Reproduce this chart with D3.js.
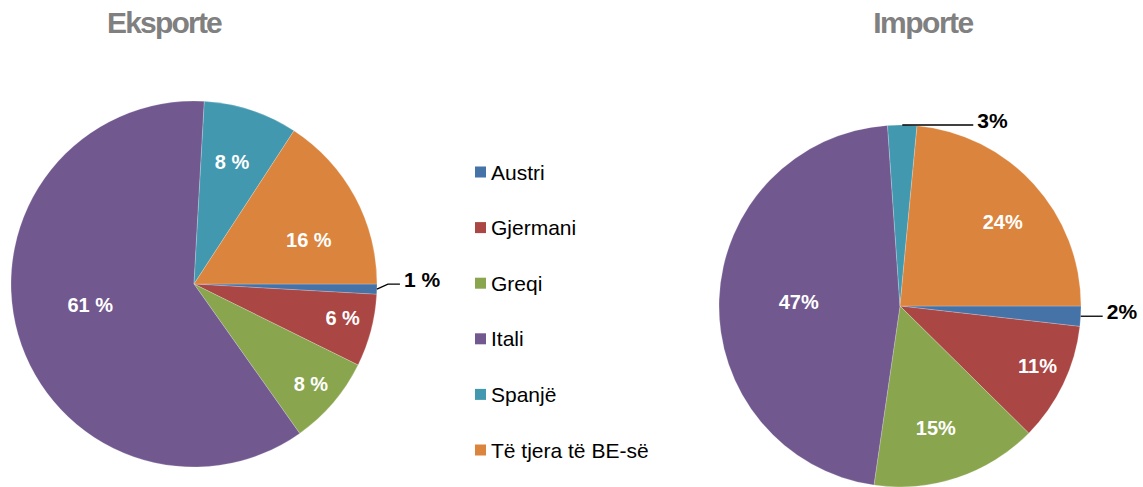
<!DOCTYPE html>
<html>
<head>
<meta charset="utf-8">
<script src="https://cdn.jsdelivr.net/npm/d3@7"></script>
<style>
  html, body { margin: 0; padding: 0; background: #fff; }
  svg { display: block; font-family: "Liberation Sans", Arial, sans-serif; }
</style>
</head>
<body>
<div id="chart"></div>
<script>
// Data
const categories = ["Austri", "Gjermani", "Greqi", "Itali", "Spanjë", "Të tjera të BE-së"];
const exportValues = [0.9, 6.4, 7.9, 60.7, 8.3, 15.8];
const importValues = [1.8, 10.6, 14.9, 46.6, 2.6, 23.5];
const titles = ["Eksporte", "Importe"];
const colors = ["#4572A7", "#AA4643", "#89A54E", "#71588F", "#4198AF", "#DB843D"];

// Layout
const width = 1143;
const height = 487;
const charts = [
  {
    title: titles[0], values: exportValues, cx: 194, cy: 284, r: 183,
    titleX: 164, letterSpacing: -1.8, suffix: " %",
    labelRadius: [null, 0.84, 0.84, 0.59, 0.70, 0.67],
    labelShift: [null, [0, -5], [0, 0], [0, -9], [-2, 0], [7, 14]],
    leaders: [{ index: 0, elbow: [11, -5], len: 12 }],
  },
  {
    title: titles[1], values: importValues, cx: 900, cy: 306, r: 181,
    titleX: 923, letterSpacing: -1.5, suffix: "%",
    labelRadius: [null, 0.83, 0.71, 0.56, null, 0.73],
    labelShift: [null, [2, -5], [-5, 0], [0, 0], null, [5, 5]],
    leaders: [
      { index: 0, elbow: [0, 0], len: 22 },
      { index: 4, elbow: [0, 0], len: 71 },
    ],
  },
];

const svg = d3.select("#chart").append("svg")
  .attr("width", width)
  .attr("height", height);

const pie = d3.pie()
  .sort(null)
  .value((d) => d)
  .startAngle(Math.PI / 2)
  .endAngle(Math.PI / 2 + 2 * Math.PI);

const polar = (a, r) => [Math.sin(a) * r, -Math.cos(a) * r];

charts.forEach((c) => {
  // Title
  svg.append("text")
    .attr("x", c.titleX)
    .attr("y", 33)
    .attr("text-anchor", "middle")
    .attr("font-size", 30)
    .attr("font-weight", "bold")
    .attr("letter-spacing", c.letterSpacing)
    .attr("fill", "#808080")
    .text(c.title);

  const g = svg.append("g").attr("transform", `translate(${c.cx},${c.cy})`);
  const arcs = pie(c.values);
  const arc = d3.arc().innerRadius(0).outerRadius(c.r);
  const fmt = (v) => d3.format(".0f")(v) + c.suffix;

  g.selectAll("path.slice")
    .data(arcs)
    .join("path")
    .attr("class", "slice")
    .attr("d", arc)
    .attr("fill", (d, i) => colors[i])
    .attr("stroke", "rgba(255,255,255,0.35)")
    .attr("stroke-width", 0.6);

  // Inside labels
  g.selectAll("text.inside")
    .data(arcs.filter((d, i) => c.labelRadius[i] != null))
    .join("text")
    .attr("class", "inside")
    .attr("transform", (d) => {
      const a = (d.startAngle + d.endAngle) / 2;
      const [x, y] = polar(a, c.r * c.labelRadius[d.index]);
      const [sx, sy] = c.labelShift[d.index];
      return `translate(${x + sx},${y + sy})`;
    })
    .attr("text-anchor", "middle")
    .attr("dy", "0.36em")
    .attr("font-size", 20)
    .attr("font-weight", "bold")
    .attr("fill", "#fff")
    .text((d) => fmt(d.value));

  // Outside labels with leader lines
  c.leaders.forEach((l) => {
    const d = arcs[l.index];
    const a = (d.startAngle + d.endAngle) / 2;
    const [x0, y0] = polar(a, c.r);
    const x1 = x0 + l.elbow[0];
    const y1 = y0 + l.elbow[1];
    const x2 = x1 + l.len;
    g.append("polyline")
      .attr("points", [[x0, y0], [x1, y1], [x2, y1]].map((p) => p.join(",")).join(" "))
      .attr("fill", "none")
      .attr("stroke", "#000")
      .attr("stroke-width", 1.3);
    g.append("text")
      .attr("x", x2 + 4)
      .attr("y", y1 - 5)
      .attr("dy", "0.36em")
      .attr("font-size", 21)
      .attr("font-weight", "bold")
      .attr("fill", "#000")
      .text(fmt(d.value));
  });
});

// Legend
const legendY = d3.scalePoint()
  .domain(categories)
  .range([172, 450]);

const legend = svg.append("g").attr("class", "legend");
const item = legend.selectAll("g")
  .data(categories)
  .join("g")
  .attr("transform", (d) => `translate(475,${legendY(d)})`);
item.append("rect")
  .attr("x", 0)
  .attr("y", -5.5)
  .attr("width", 11)
  .attr("height", 11)
  .attr("fill", (d, i) => colors[i]);
item.append("text")
  .attr("x", 16)
  .attr("dy", "0.36em")
  .attr("font-size", 21)
  .attr("fill", "#000")
  .text((d) => d);
</script>
</body>
</html>
